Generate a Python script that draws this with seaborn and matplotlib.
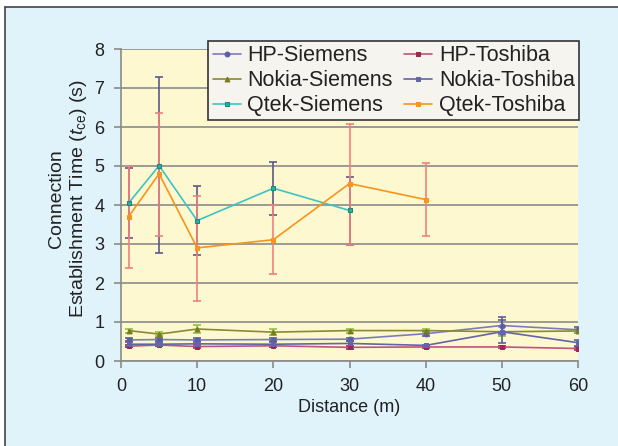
import matplotlib
matplotlib.use("Agg")
import matplotlib.pyplot as plt
import seaborn as sns
import pandas as pd
from matplotlib.patches import Rectangle
from matplotlib.lines import Line2D

sns.set_theme(style="white")
plt.rcParams['font.family'] = ['Liberation Sans', 'DejaVu Sans']
plt.rcParams['mathtext.fontset'] = 'custom'
plt.rcParams['mathtext.rm'] = 'Liberation Sans'
plt.rcParams['mathtext.it'] = 'Liberation Sans:italic'

# ---- data ----
distance = [1, 5, 10, 20, 30, 40, 50, 60]

hp_siemens = [0.54, 0.55, 0.54, 0.55, 0.56, 0.70, 0.91, 0.80]
hp_siemens_err = [0.04, 0.04, 0.04, 0.04, 0.04, 0.07, 0.22, 0.08]

hp_toshiba = [0.38, 0.41, 0.37, 0.39, 0.35, 0.36, 0.36, 0.32]
hp_toshiba_err = [0.03, 0.03, 0.04, 0.03, 0.03, 0.02, 0.03, 0.04]

nokia_siemens = [0.78, 0.69, 0.82, 0.74, 0.78, 0.78, 0.75, 0.77]
nokia_siemens_err = [0.05, 0.05, 0.11, 0.07, 0.05, 0.05, 0.12, 0.06]

nokia_toshiba = [0.43, 0.43, 0.44, 0.43, 0.45, 0.40, 0.75, 0.47]
nokia_toshiba_err = [0.08, 0.05, 0.07, 0.06, 0.06, 0.02, 0.30, 0.08]

qtek_siemens_x = [1, 5, 10, 20, 30]
qtek_siemens = [4.05, 5.01, 3.60, 4.43, 3.86]
qtek_siemens_lo = [3.16, 2.76, 2.73, 3.75, 2.97]
qtek_siemens_hi = [4.95, 7.29, 4.50, 5.11, 4.73]

qtek_toshiba_x = [1, 5, 10, 20, 30, 40]
qtek_toshiba = [3.70, 4.80, 2.90, 3.11, 4.55, 4.14]
qtek_toshiba_lo = [2.38, 3.21, 1.53, 2.22, 2.97, 3.21]
qtek_toshiba_hi = [5.01, 6.36, 4.24, 4.00, 6.08, 5.07]

x_ticks = [0, 10, 20, 30, 40, 50, 60]
y_ticks = [0, 1, 2, 3, 4, 5, 6, 7, 8]

# ---- figure ----
fig = plt.figure(figsize=(6.18, 4.46), dpi=100)
fig.patch.set_facecolor('white')
bg = Rectangle((5/618, 0), 1 - 5/618, 1 - 7/446, transform=fig.transFigure,
               facecolor='#e0f2fa', edgecolor='none', zorder=-10)
fig.patches.append(bg)
fig.lines.append(Line2D([5/618, 5/618], [0, 1 - 7/446], transform=fig.transFigure,
                        color='#444444', lw=1.2))
fig.lines.append(Line2D([5/618, 1], [1 - 7/446, 1 - 7/446], transform=fig.transFigure,
                        color='#444444', lw=1.2))

ax = fig.add_axes([121/618, 1 - 361/446, (578-121)/618, (361-49)/446])
ax.set_facecolor('#fdf8cf')

def draw(xs, ys, err, color, ecolor, marker, ms, label, mfc=None, mec=None, lw=1.2):
    df = pd.DataFrame({'x': xs, 'y': ys})
    ax.errorbar(xs, ys, yerr=err, fmt='none', ecolor=ecolor, elinewidth=1.2,
                capsize=2.6, capthick=1.2, zorder=2)
    sns.lineplot(data=df, x='x', y='y', ax=ax, color=color, lw=lw, marker=marker,
                 markersize=ms, markerfacecolor=mfc or color,
                 markeredgecolor=mec or (mfc or color), label=label, zorder=3)

draw(distance, hp_siemens, hp_siemens_err, '#7b7cc0', '#5c5ca8', 'o', 3.5,
     'HP-Siemens', mfc='#5c5ca8')
draw(distance, nokia_siemens, nokia_siemens_err, '#8a8a2e', '#8cc63f', '^', 5,
     'Nokia-Siemens', mfc='#7a7a20')
draw(qtek_siemens_x, qtek_siemens,
     [[v - l for v, l in zip(qtek_siemens, qtek_siemens_lo)],
      [h - v for v, h in zip(qtek_siemens, qtek_siemens_hi)]],
     '#3cc4c4', '#5a5a88', 's', 5.5, 'Qtek-Siemens', mfc='#2aaea0', mec='#1e8878')
draw(distance, hp_toshiba, hp_toshiba_err, '#c2527e', '#a0245a', 's', 4,
     'HP-Toshiba', mfc='#a0245a')
draw(distance, nokia_toshiba, nokia_toshiba_err, '#6464a8', '#5c5ca0', 's', 5,
     'Nokia-Toshiba', mfc='#6464a8')
draw(qtek_toshiba_x, qtek_toshiba,
     [[v - l for v, l in zip(qtek_toshiba, qtek_toshiba_lo)],
      [h - v for v, h in zip(qtek_toshiba, qtek_toshiba_hi)]],
     '#f7941d', '#f08080', 's', 3.2, 'Qtek-Toshiba', mfc='#f7941d')

ax.set_xlim(0, 60)
ax.set_ylim(0, 8)
ax.set_xticks(x_ticks)
ax.set_yticks(y_ticks)
ax.yaxis.grid(True, color='#8a8a8a', lw=1.2)
ax.set_axisbelow(True)
for s in ['top', 'right']:
    ax.spines[s].set_visible(False)
for s in ['left', 'bottom']:
    ax.spines[s].set_color('#8a8a8a')
    ax.spines[s].set_linewidth(1.2)
ax.tick_params(axis='both', which='both', direction='out', length=5, width=1.2,
               color='#8a8a8a', labelsize=13, labelcolor='#222222',
               bottom=True, left=True, pad=7)
ax.set_xlabel('Distance (m)', fontsize=13, color='#222222', labelpad=3)
ax.set_ylabel('Connection\nEstablishment Time ($t_{\\rm ce}$) (s)', fontsize=14,
              color='#222222', labelpad=4, linespacing=1.15)
ax.yaxis.label.set_y(0.52)

handles, labels = ax.get_legend_handles_labels()
for h in handles:
    h.set_markersize(3.5)
leg = ax.legend(handles, labels, ncol=2, loc='upper right',
                bbox_to_anchor=(579/618, 1 - 41/446), bbox_transform=fig.transFigure,
                fontsize=15.5, frameon=True, fancybox=False, handlelength=1.3,
                handletextpad=0.3, columnspacing=0.55, labelspacing=0.18,
                borderpad=0.2, borderaxespad=0)
leg.get_frame().set_facecolor('#f5f4ef')
leg.get_frame().set_edgecolor('#333333')
leg.get_frame().set_linewidth(1.2)
leg.get_frame().set_alpha(1)
leg.set_zorder(10)
for t in leg.get_texts():
    t.set_color('#222222')

fig.savefig('out.png', dpi=100)
